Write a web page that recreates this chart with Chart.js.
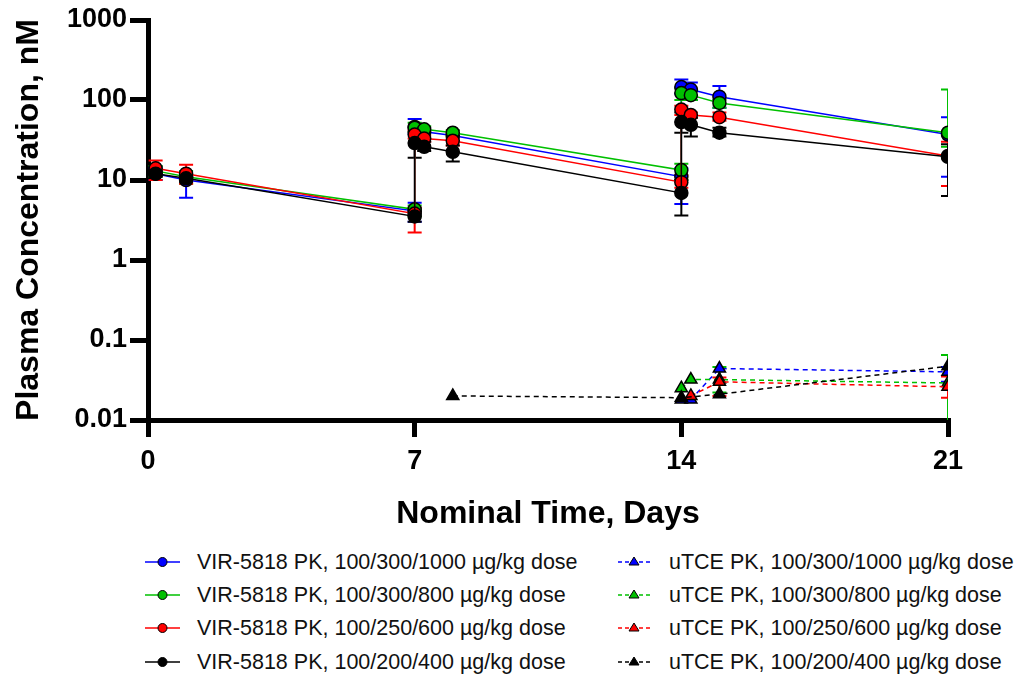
<!DOCTYPE html>
<html>
<head>
<meta charset="utf-8">
<script src="https://cdn.jsdelivr.net/npm/chart.js@4.4.1/dist/chart.umd.min.js"></script>
<style>
  body { margin: 0; background: #fff; }
  #wrap { position: relative; width: 1020px; height: 675px; }
  #chartID { position: absolute; left: 0; top: 0; }
  .leg { position: absolute; height: 30px; display: flex; align-items: center;
    font-family: 'Liberation Sans', Arial, sans-serif; font-size: 21.5px; color: #111; white-space: nowrap; }
  .leg svg { margin-right: 17px; }
</style>
</head>
<body>
<div id="wrap">
  <canvas id="chartID" width="1020" height="540"></canvas>
</div>
<script>
// nominal sampling times (days)
const virTimes = [0.2, 1, 7, 7, 7.25, 8, 14, 14, 14.25, 15, 21]

// VIR-5818 PK, nM
const virBlue = [12, 10, 4.1, 46, 40, 36, 11, 145, 135, 110, 37]
const virGreen = [13, 11, 4.3, 45, 43, 39, 13.3, 122, 115, 92, 39]
const virRed = [14, 12, 3.8, 37, 33, 31, 9.4, 76, 65, 61, 20]
const virBlack = [12, 10.5, 3.5, 29, 26, 22.5, 6.9, 53, 49, 39, 19.5]

// error bars [low, high]
const virBlueErr = [[10, 14], [6, 11.5], [3, 5.2], [38, 58], null, null, [5, 14], [120, 180], [100, 165], [80, 150], [11, 61]]
const virGreenErr = [[11, 15], [9, 13], [3.5, 4.8], [40, 52], [38, 47], [35, 42], [10, 16], [100, 140], [100, 130], [80, 100], [26, 135]]
const virRedErr = [[10, 17.5], [9, 15.5], [2.2, 4.5], [33, 42], [30, 36], [27, 34], [8, 11.5], [65, 85], [60, 70], [55, 70], [8.4, 30]]
const virBlackErr = [[11, 13.5], [9.5, 11.5], [3, 4], [19, 40], [23, 30], [17, 27], [3.6, 10], [39, 70], [35, 60], [35, 45], [6.3, 28]]

// uTCE PK, nM
const uBlueTimes = [14, 14.25, 15, 21]
const uBlue = [0.018, 0.018, 0.044, 0.04]
const uBlueErr = [null, null, null, [0.03, 0.046]]
const uGreenTimes = [14, 14.25, 15, 21]
const uGreen = [0.025, 0.032, 0.032, 0.029]
const uGreenErr = [null, null, [0.022, 0.046], [0.005, 0.065]]
const uRedTimes = [14.25, 15, 21]
const uRed = [0.02, 0.03, 0.026]
const uRedErr = [null, [0.02, 0.034], [0.019, 0.035]]
const uBlackTimes = [8, 14, 15, 21]
const uBlack = [0.02, 0.019, 0.021, 0.047]
const uBlackErr = [null, null, null, null]

const xTicks = [0, 7, 14, 21]
const yTicks = [0.01, 0.1, 1, 10, 100, 1000]

const labels = [
  'VIR-5818 PK, 100/300/1000 µg/kg dose',
  'VIR-5818 PK, 100/300/800 µg/kg dose',
  'VIR-5818 PK, 100/250/600 µg/kg dose',
  'VIR-5818 PK, 100/200/400 µg/kg dose',
  'uTCE PK, 100/300/1000 µg/kg dose',
  'uTCE PK, 100/300/800 µg/kg dose',
  'uTCE PK, 100/250/600 µg/kg dose',
  'uTCE PK, 100/200/400 µg/kg dose',
]
const colors = ['#0000ff', '#00c000', '#ff0000', '#000000']

const FONT = "'Liberation Sans', Arial, sans-serif"

function pts(times, vals) {
  return times.map(function(t, i) { return {x: t, y: vals[i]} })
}

function virSet(i, vals, errs) {
  return {
    label: labels[i], data: pts(virTimes, vals), errors: errs,
    borderColor: colors[i], backgroundColor: colors[i], borderWidth: 1.5,
    pointStyle: 'circle', pointRadius: 6.5, pointBorderColor: '#000', pointBorderWidth: 1.5,
    pointBackgroundColor: colors[i], order: 8 - i, tension: 0,
  }
}
function uSet(i, times, vals, errs) {
  return {
    label: labels[i + 4], data: pts(times, vals), errors: errs,
    borderColor: colors[i], backgroundColor: colors[i], borderWidth: 1.5, borderDash: [5, 4],
    pointStyle: 'triangle', pointRadius: 7, pointBorderColor: '#000', pointBorderWidth: 1.5,
    pointBackgroundColor: colors[i], order: 4 - i, tension: 0,
  }
}

// vertical error bars with caps, drawn under the markers
const errorBars = {
  id: 'errorBars',
  beforeDatasetsDraw(chart) {
    const {ctx, chartArea, scales} = chart
    ctx.save()
    ctx.beginPath()
    ctx.rect(chartArea.left, chartArea.top, chartArea.width, chartArea.height)
    ctx.clip()
    chart.data.datasets.forEach(function(ds) {
      ds.errors.forEach(function(e, j) {
        if (!e) return
        const px = scales.x.getPixelForValue(ds.data[j].x)
        const lo = scales.y.getPixelForValue(e[0])
        const hi = scales.y.getPixelForValue(e[1])
        ctx.strokeStyle = ds.borderColor
        ctx.lineWidth = 2
        ctx.beginPath()
        ctx.moveTo(px, lo); ctx.lineTo(px, hi)
        ctx.moveTo(px - 7, lo); ctx.lineTo(px + 7, lo)
        ctx.moveTo(px - 7, hi); ctx.lineTo(px + 7, hi)
        ctx.stroke()
      })
    })
    ctx.restore()
  }
}

const data = {
  datasets: [
    virSet(0, virBlue, virBlueErr),
    virSet(1, virGreen, virGreenErr),
    virSet(2, virRed, virRedErr),
    virSet(3, virBlack, virBlackErr),
    uSet(0, uBlueTimes, uBlue, uBlueErr),
    uSet(1, uGreenTimes, uGreen, uGreenErr),
    uSet(2, uRedTimes, uRed, uRedErr),
    uSet(3, uBlackTimes, uBlack, uBlackErr),
  ],
}

const tickFont = {family: FONT, size: 27, weight: 'bold'}
const titleFont = {family: FONT, size: 32, weight: 'bold'}

window.onload = function() {
  let chartCtx = document.getElementById('chartID').getContext('2d')
  window.lineChart = new Chart(chartCtx, {
    type: 'line',
    data: data,
    plugins: [errorBars],
    options: {
      responsive: false,
      animation: false,
      layout: {padding: {top: 20, right: 72, left: 0, bottom: 0}},
      plugins: {legend: {display: false}, tooltip: {enabled: false}},
      scales: {
        x: {
          type: 'linear', min: 0, max: 21,
          afterBuildTicks: function(s) { s.ticks = xTicks.map(function(v) { return {value: v} }) },
          afterFit: function(s) { s.height = 120 },
          ticks: {font: tickFont, color: '#000', padding: 8, maxRotation: 0},
          grid: {drawOnChartArea: false, color: '#000', lineWidth: 5, tickLength: 17},
          border: {color: '#000', width: 5},
          title: {display: true, text: 'Nominal Time, Days', font: titleFont, color: '#000', padding: {top: 0, bottom: 7}},
        },
        y: {
          type: 'logarithmic', min: 0.01, max: 1000,
          afterBuildTicks: function(s) { s.ticks = yTicks.map(function(v) { return {value: v} }) },
          afterFit: function(s) { s.width = 148 },
          ticks: {font: tickFont, color: '#000', padding: 3, callback: function(v) { return String(v) }},
          grid: {drawOnChartArea: false, color: '#000', lineWidth: 5, tickLength: 18},
          border: {color: '#000', width: 5},
          title: {display: true, text: 'Plasma Concentration, nM', font: titleFont, color: '#000', padding: {top: 10, bottom: 0}},
        },
      },
    },
  })

  // two-column legend below the chart
  const wrap = document.getElementById('wrap')
  const rowY = [562, 595, 628, 662]
  for (let k = 0; k < 8; k++) {
    const c = colors[k % 4]
    const isU = k >= 4
    const row = document.createElement('div')
    row.className = 'leg'
    row.style.left = (isU ? 617 : 145) + 'px'
    row.style.top = (rowY[k % 4] - 15) + 'px'
    const mark = isU
      ? '<line x1="1" y1="10" x2="34" y2="10" stroke="' + c + '" stroke-width="1.5" stroke-dasharray="4,3"/>' +
        '<polygon points="17,5 22,13 12,13" fill="' + c + '" stroke="#000" stroke-width="1"/>'
      : '<line x1="0" y1="10" x2="35" y2="10" stroke="' + c + '" stroke-width="1.5"/>' +
        '<circle cx="17.5" cy="10" r="4.5" fill="' + c + '" stroke="#000" stroke-width="1"/>'
    row.innerHTML = '<svg width="35" height="20">' + mark + '</svg><span>' + labels[k] + '</span>'
    wrap.appendChild(row)
  }
}
</script>
</body>
</html>
